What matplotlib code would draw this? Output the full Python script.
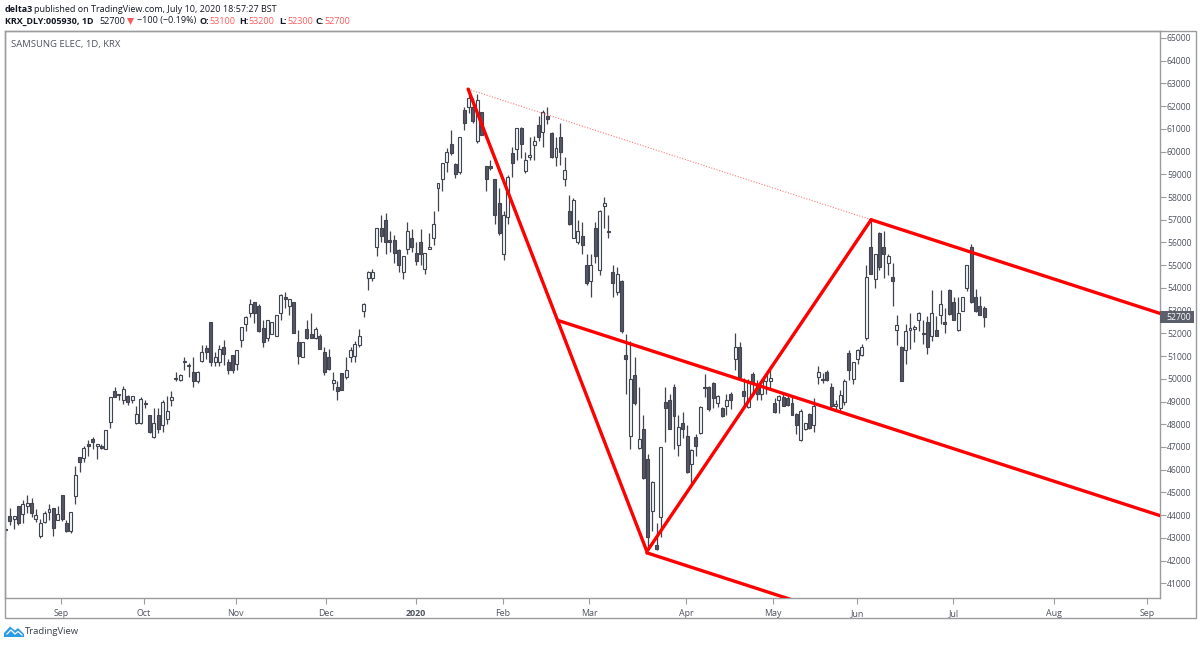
import matplotlib
matplotlib.use("Agg")
import matplotlib.pyplot as plt
from matplotlib.patches import Rectangle, Polygon
from matplotlib.lines import Line2D

plt.rcParams["font.family"] = ["Open Sans", "DejaVu Sans"]

# Daily candles for KRX:005930, Aug 2019 - Jul 2020 (session index = list position)
highs = [
    43550,44300,43950,44400,44650,44900,44750,44250,43850,44200,
    44500,44300,44400,44900,43800,44150,46150,46550,47050,47300,
    47450,47150,47150,47750,49200,49650,49350,49700,49300,49250,
    48800,49200,49050,48400,48700,48700,49050,49250,49450,50300,
    50200,50950,50700,50950,50350,51500,51500,52500,51200,51500,
    51700,50850,51050,51250,52300,52750,53500,53400,53300,52600,
    52600,52500,52800,53750,53800,53500,53400,52150,51600,52600,
    52900,52300,51950,51400,51300,50300,49900,50250,50950,51400,
    51650,52200,53350,54750,54850,56650,57200,57300,56500,56350,
    55700,55400,56900,56600,56000,56600,55550,56400,57400,58600,
    59500,60150,60950,59500,60650,61950,62800,62350,62550,61750,
    59350,59650,58800,58400,57400,58950,60200,61050,61100,60000,
    60650,60700,61550,61850,61950,60850,60650,61250,59750,58100,
    57950,57000,56900,55500,55500,56900,57450,58000,57200,55000,
    54900,54350,51950,51650,50950,49650,48400,46700,45500,43650,
    47000,49650,49350,49750,48400,48550,47950,46900,47550,48800,
    50200,49700,49850,49300,48750,49350,49400,52000,51600,50050,
    50000,50300,49950,49900,50250,50550,49150,49300,49350,49350,
    49300,48500,48650,48050,48500,49150,50550,50250,50400,49800,
    49050,49500,50000,51250,50750,51300,51550,55000,57000,55500,
    56450,56500,55500,55100,52800,51450,52400,52900,52350,52950,
    52600,52750,53900,52750,53900,53100,53950,53600,53600,53600,
    55000,55950,53950,53650,53200,
]
body_tops = [
    43400,43950,43950,44400,44500,44550,44550,44000,43650,44100,
    44250,44300,44050,44900,43650,44150,45750,46550,46950,47150,
    47350,47150,47050,47750,49200,49450,49350,49550,49250,49250,
    48450,49100,48950,48400,48050,48400,49000,48600,49200,50050,
    50150,50750,50600,50300,50300,51200,51350,52500,50950,51300,
    51400,50750,51050,51250,52300,52700,53300,53400,53200,52250,
    52600,52500,52800,53700,53600,53500,53400,51600,51600,52200,
    51950,52200,51900,51200,50950,49950,49650,50250,50400,51250,
    51550,51900,53300,54700,54700,56650,56650,57000,56100,56100,
    55650,55400,56500,56200,55550,56000,55550,55800,56800,58600,
    59500,60000,60350,59450,60650,61850,62350,61950,62250,61750,
    59350,59350,58800,57750,57200,58900,59950,61050,61050,59650,
    59850,60450,61150,61750,61550,60800,60150,60650,59200,57400,
    57850,56500,56300,55000,55000,56650,57400,57750,56500,54700,
    54600,54300,51050,50000,50150,47350,47800,46450,45450,42700,
    47000,49000,49050,49650,47900,48050,47500,46850,47450,48750,
    49650,49650,49800,49250,48700,49050,49350,51400,51400,49450,
    49900,50200,49700,49900,50150,50050,48950,49250,49200,49150,
    48950,48450,48600,48050,48450,48800,50300,50000,50300,49650,
    48900,49300,49900,51150,50750,51250,51400,54500,55800,55500,
    56400,55800,55400,54500,52350,51400,52100,52250,52300,52900,
    52000,52500,52900,52150,53300,52500,53900,53400,52900,53600,
    55000,55800,53600,53200,53100,
]
body_bottoms = [
    43350,43750,43850,43650,44050,44400,44100,43850,43100,43700,
    44150,43450,43800,43850,43300,43300,44850,46350,46500,47050,
    47200,47050,46950,46900,48100,49200,49300,49050,49000,49050,
    48050,48050,48900,47650,47450,47800,47950,48250,49050,50000,
    49950,50750,50550,49900,49900,50800,51200,50750,50750,50750,
    51100,50400,50400,50650,51700,52400,52900,52900,52100,51600,
    51800,51950,51900,52900,53500,53200,52000,51000,50950,51800,
    51800,51800,51300,50300,50450,49800,49450,49500,50100,50950,
    51000,51500,53000,54450,54450,55800,56300,56000,56000,55550,
    55000,54700,55700,55800,55200,55500,54850,55700,56200,58400,
    58800,59550,59950,59000,59100,61250,61950,61350,60450,60750,
    58800,59300,57200,56400,55500,57100,59500,60100,60350,59150,
    59750,60300,60650,60850,61450,59750,59750,60000,58800,56800,
    56200,56000,55900,54200,54300,55400,54800,57600,56450,54200,
    53800,52100,50850,47500,48950,46950,45650,43050,44200,42500,
    43900,48700,47800,48350,47100,47800,45900,46250,47050,47600,
    49600,48650,49150,48950,48350,48800,49050,50850,50100,49250,
    48750,49850,49350,49350,49900,49900,48550,49050,48800,48850,
    48400,47950,47300,47800,47850,47950,50100,49950,49950,48800,
    48800,48700,49000,50400,50000,50850,51050,51800,54600,54400,
    54900,55500,55100,54300,52150,49900,51250,52150,52200,52600,
    51950,51400,51900,51900,52800,52400,52850,52600,52150,53000,
    54000,53400,53000,52800,52700,
]
lows = [
    43050,43550,43400,43550,43650,44100,43900,43700,43000,43650,
    43800,43100,43800,43750,43250,43200,44500,45900,46350,46600,
    46900,46450,46900,46900,47850,49200,49050,48900,48850,48950,
    48000,48000,48700,47600,47400,47600,47650,48000,48800,49900,
    49900,50400,50100,49650,49800,50750,50850,50550,50550,50550,
    50600,50200,50250,50400,51400,52100,52700,52450,52050,51400,
    51650,51950,51900,52600,53100,52800,52000,50650,50950,51750,
    51800,51750,51300,50150,50400,49500,49050,49500,50000,50750,
    50750,51400,52700,53900,54300,55400,56000,55500,55600,55100,
    54700,54400,55500,55600,55000,55000,54600,55700,55900,57400,
    58250,59100,59850,58850,59000,60950,61700,61250,60400,60750,
    58250,59200,56800,56350,55250,56800,58900,59650,59700,59050,
    59650,59650,60450,60200,61200,59700,59350,59400,58500,56750,
    56200,55950,55500,54150,53600,55100,54550,56650,56200,53600,
    53700,52000,49350,46900,48850,46900,45600,42550,43300,42450,
    43050,47200,47800,46900,46600,47400,45850,45400,46600,47550,
    49200,48600,48700,48750,48300,48400,48650,50400,50000,48700,
    48700,49350,49050,49050,49350,49500,48500,48500,48800,48800,
    48400,47550,47250,47750,47800,47650,49750,49800,49900,48700,
    48600,48550,48850,49950,49750,50650,51000,51700,54600,54000,
    54800,54450,54550,53200,51500,49900,50650,51300,51600,52100,
    51550,51100,51650,51900,52400,52000,52800,52600,52100,53000,
    53850,53350,52950,52800,52300,
]
# U = closed higher than it opened, D = closed lower
directions = (
    "DDUDUUDUUU" "UDUDDUUDUD" "DUDUUDUUDU" "UUDDUDUUUU" "UUUDUUDDUU"
    "DDDUUUUDDD" "UUUUDUDDUD" "DUDDDUDDUU" "UUUUUUDDDD" "DUUDDDUUUU"
    "UUDDUDUDUD" "DDDDUUDUDU" "UUDUDDUDUD" "UUDDUDUUDD" "UDDUDUDDUD"
    "UDDDUDDUDU" "DDDUDUDUDD" "UDDUUUDUDD" "DDUUDUUDDD" "UUUDUUUUDU"
    "DDUDUDUUUU" "DDUDUDDDUU" "UDDDD"
)

month_labels = ["Sep", "Oct", "Nov", "Dec", "2020", "Feb", "Mar", "Apr", "May", "Jun", "Jul", "Aug", "Sep"]
month_positions = [12.8, 31.7, 52.7, 73.4, 94, 113.9, 133.6, 155.8, 175.7, 194.9, 216.9, 240, 261.3]
price_ticks = list(range(41000, 65001, 1000))

# Pitchfork anchors: (session index, price)
pivot_a = (105.9, 62750)
pivot_b = (146.8, 42400)
pivot_c = (198.1, 57000)

last_price = 52700
TEXT = "#131722"
AXIS_TEXT = "#50535e"
FRAME = "#9a9c9f"
RED = "#ff0000"
LOSS = "#ff5a5a"
BAR_EDGE = "#41444f"
BAR_DOWN = "#555864"
BAR_UP = "#f0f8fa"

W, H = 1200, 645
fig = plt.figure(figsize=(W / 100, H / 100), dpi=100, facecolor="white")


def fx(px):
    return px / W


def fy(py):
    return 1 - py / H


ax = fig.add_axes([fx(5), fy(598), fx(1160) - fx(5), fy(31) - fy(598)])
ax.set_xlim(-0.07, 264.2)
ax.set_ylim(40352, 65308)

# Candles: wick first, then body on top
xs = list(range(len(highs)))
ax.vlines(xs, lows, highs, colors=BAR_EDGE, linewidth=0.9, zorder=2)
heights = [max(t - b, 40) for t, b in zip(body_tops, body_bottoms)]
fills = [BAR_UP if d == "U" else BAR_DOWN for d in directions]
ax.bar(xs, heights, bottom=body_bottoms, width=0.68, color=fills,
       edgecolor=BAR_EDGE, linewidth=0.8, zorder=3)

# Pitchfork drawn from the three pivots and extended along the A-C slope
slope = (pivot_c[1] - pivot_a[1]) / (pivot_c[0] - pivot_a[0])
x_end = ax.get_xlim()[1]
mid = ((pivot_a[0] + pivot_b[0]) / 2, (pivot_a[1] + pivot_b[1]) / 2)


def extend(p):
    return [p[0], x_end], [p[1], p[1] + slope * (x_end - p[0])]


red_style = dict(color=RED, linewidth=2.4, zorder=5, solid_capstyle="round")
ax.plot([pivot_a[0], pivot_b[0], pivot_c[0]], [pivot_a[1], pivot_b[1], pivot_c[1]],
        solid_joinstyle="miter", **red_style)
for start in (pivot_c, mid):
    ax.plot(*extend(start), **red_style)
ax.plot(*extend((pivot_b[0], pivot_b[1] - 60)), **red_style)
ax.plot([pivot_a[0], pivot_c[0]], [pivot_a[1], pivot_c[1]], color="#ff7a7a",
        linewidth=0.8, linestyle=(0, (1, 1.5)), zorder=4)

# Axes styling
for spine in ax.spines.values():
    spine.set_color(FRAME)
    spine.set_linewidth(1.0)
ax.yaxis.tick_right()
ax.set_yticks(price_ticks)
ax.set_yticklabels([str(p) for p in price_ticks])
ax.tick_params(axis="y", length=4, width=0.8, color=FRAME, labelcolor=AXIS_TEXT,
               labelsize=6.2, pad=1)
ax.set_xticks(month_positions)
ax.set_xticklabels(month_labels)
ax.tick_params(axis="x", length=4, width=0.8, color=FRAME, labelcolor=AXIS_TEXT,
               labelsize=6.4, pad=4)
for lbl in ax.get_xticklabels():
    if lbl.get_text() == "2020":
        lbl.set_fontweight("bold")

# Last-price tag on the price scale; it sits over the neighbouring scale label
tag_w = 34 / 1155
tag_h = 12 / 0.02272
ax.add_patch(Rectangle((1.0, last_price - tag_h / 2), tag_w, tag_h,
                       transform=ax.get_yaxis_transform(), facecolor="#5b5e6b",
                       edgecolor="none", clip_on=False, zorder=6))
ax.text(1.0 + 6 / 1155, last_price, str(last_price), transform=ax.get_yaxis_transform(),
        color="white", fontsize=6.2, va="center", ha="left", zorder=7)

# Outer frame around chart and scales
fig.add_artist(Rectangle((fx(5), fy(618)), fx(1196) - fx(5), fy(31) - fy(618),
                         transform=fig.transFigure, fill=False, edgecolor=FRAME, linewidth=1.0))

# Header lines
def label(px, py, s, color=TEXT, weight="normal", size=6.5):
    fig.text(fx(px), fy(py), s, color=color, fontweight=weight, fontsize=size,
             ha="left", va="center")


label(5, 9, "delta3", weight="bold")
label(34, 9, "published on TradingView.com, July 10, 2020 18:57:27 BST")
label(5, 21, "KRX_DLY:005930, 1D", weight="bold")
label(99, 21, "52700")
fig.add_artist(Polygon([(fx(127), fy(18)), (fx(134), fy(18)), (fx(130.5), fy(25))],
                       closed=True, transform=fig.transFigure, facecolor=LOSS, edgecolor="none"))
label(137, 21, "\u2212100 (\u22120.19%)")
label(199, 21, "O:", weight="bold")
label(209, 21, "53100", color=LOSS)
label(239, 21, "H:", weight="bold")
label(248, 21, "53200", color=LOSS)
label(279, 21, "L:", weight="bold")
label(287, 21, "52300", color=LOSS)
label(315, 21, "C:", weight="bold")
label(324, 21, "52700", color=LOSS)
label(11, 44, "SAMSUNG ELEC, 1D, KRX", color=AXIS_TEXT, size=6.8)

# Footer logo and wordmark
fig.add_artist(Polygon([(fx(x), fy(y)) for x, y in
                        [(4, 637), (4, 633), (10, 626.5), (15, 630.5), (18, 628), (24, 634), (24, 637)]],
                       closed=True, transform=fig.transFigure, facecolor="#2e9be6", edgecolor="none"))
fig.add_artist(Line2D([fx(7), fx(11), fx(15), fx(18), fx(22)],
                      [fy(634), fy(630), fy(634), fy(631.5), fy(635)],
                      transform=fig.transFigure, color="white", linewidth=0.9))
label(25, 631.5, "TradingView", color="#3a3e4a", size=6.8)

fig.savefig("out.png", dpi=100, facecolor="white")
